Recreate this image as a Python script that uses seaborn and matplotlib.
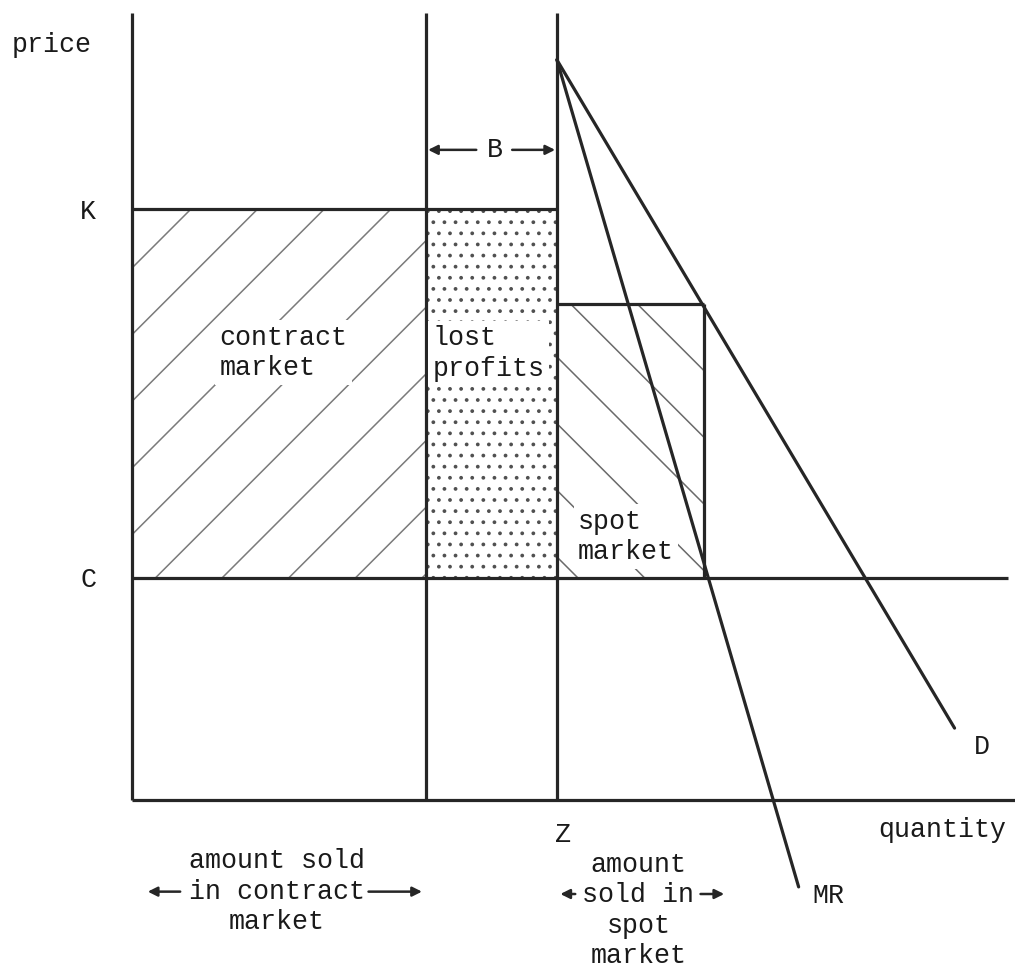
import numpy as np
import pandas as pd
import matplotlib
matplotlib.use('Agg')
import matplotlib.pyplot as plt
import seaborn as sns

# quantities (x) and prices (y)
q_contract = 33.6      # end of contract-market sales
q_z = 48.5             # Z, total capacity
q_spot = 65.3          # end of spot-market sales
q_end = 100.0
p_top = 99.6
p_k = 74.8             # contract price K
p_c = 28.1             # cost C
p_spot = 62.8          # spot price

demand_q = [48.5, 93.9]
demand_p = [93.7, 9.1]
mr_q = [48.5, 76.1]
mr_p = [93.7, -11.0]

sns.set_style('white')
plt.rcParams['font.family'] = ['Liberation Mono', 'DejaVu Sans Mono']
plt.rcParams['hatch.linewidth'] = 0.55

ink = '#262626'
fig = plt.figure(figsize=(5.075, 4.865), dpi=200)
ax = fig.add_axes([0, 0, 1, 1])
ax.set_xlim(-15.07, 100.8)
ax.set_ylim(-21.9, 101.27)
ax.axis('off')

# shaded areas
ax.fill_between([0, q_contract], p_c, p_k, facecolor='none', edgecolor='#7a7a7a', hatch='/', linewidth=0)
ax.fill_between([q_contract, q_z], p_c, p_k, facecolor='none', edgecolor='#505050', hatch='...', linewidth=0)
ax.fill_between([q_z, q_spot], p_c, p_spot, facecolor='none', edgecolor='#6a6a6a', hatch='\\', linewidth=0)

lw = 1.15
ax.vlines([0, q_contract, q_z], 0, p_top, color=ink, lw=lw)
ax.hlines(0, 0, 100.8, color=ink, lw=lw)
ax.hlines(p_k, 0, q_z, color=ink, lw=lw)
ax.hlines(p_c, 0, q_end, color=ink, lw=lw)
ax.hlines(p_spot, q_z, q_spot, color=ink, lw=lw)
ax.vlines(q_spot, p_c, p_spot, color=ink, lw=lw)

sns.lineplot(x=demand_q, y=demand_p, color=ink, lw=lw, sort=False, ax=ax)
sns.lineplot(x=mr_q, y=mr_p, color=ink, lw=lw, sort=False, ax=ax)

fs = 9.6
ls = 1.22
kw = dict(fontsize=fs, color='#1a1a1a')
box = dict(facecolor='white', edgecolor='none', pad=1.5)
ax.text(-13.7, 95.6, 'price', ha='left', va='center', **kw)
ax.text(-5.0, 74.4, 'K', ha='center', va='center', **kw)
ax.text(-5.0, 27.8, 'C', ha='center', va='center', **kw)
ax.text(41.4, 82.3, 'B', ha='center', va='center', **kw)
ax.text(10.0, 56.6, 'contract\nmarket', ha='left', va='center', linespacing=ls, bbox=box, **kw)
ax.text(34.3, 56.5, 'lost\nprofits', ha='left', va='center', linespacing=ls, bbox=box, **kw)
ax.text(50.9, 33.3, 'spot\nmarket', ha='left', va='center', linespacing=ls, bbox=box, **kw)
ax.text(49.2, -4.4, 'Z', ha='center', va='center', **kw)
ax.text(99.8, -3.8, 'quantity', ha='right', va='center', **kw)
ax.text(97.0, 6.7, 'D', ha='center', va='center', **kw)
ax.text(77.7, -12.2, 'MR', ha='left', va='center', **kw)
ax.text(16.5, -11.6, 'amount sold\nin contract\nmarket', ha='center', va='center', linespacing=ls, **kw)
ax.text(57.8, -14.0, 'amount\nsold in\nspot\nmarket', ha='center', va='center', linespacing=ls, **kw)

arrow = dict(arrowstyle='-|>', color=ink, lw=0.9, mutation_scale=7, shrinkA=0, shrinkB=0)
ax.annotate('', xy=(q_contract + 0.2, 82.3), xytext=(39.3, 82.3), arrowprops=arrow)
ax.annotate('', xy=(q_z - 0.2, 82.3), xytext=(43.4, 82.3), arrowprops=arrow)
ax.annotate('', xy=(1.8, -11.6), xytext=(5.5, -11.6), arrowprops=arrow)
ax.annotate('', xy=(33.1, -11.6), xytext=(27.0, -11.6), arrowprops=arrow)
ax.annotate('', xy=(48.9, -11.9), xytext=(50.6, -11.9), arrowprops=arrow)
ax.annotate('', xy=(67.6, -11.9), xytext=(64.9, -11.9), arrowprops=arrow)

fig.savefig('out.png', dpi=200)
